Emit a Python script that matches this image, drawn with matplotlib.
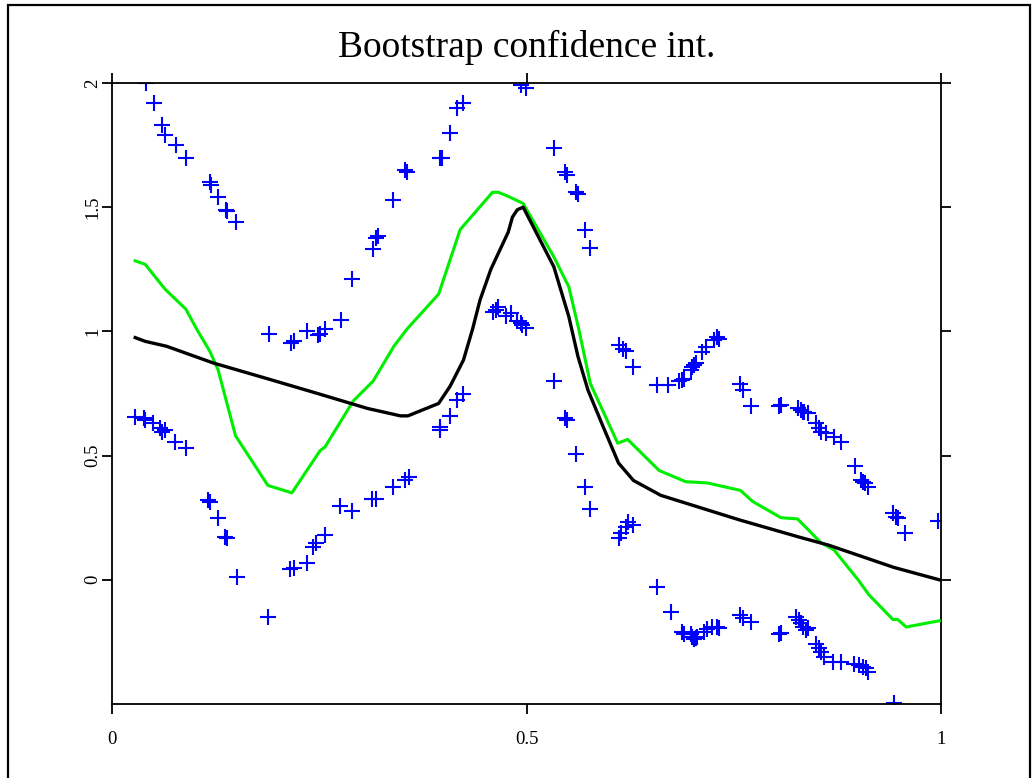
"""
plot.py

Bootstrap confidence interval chart: a black point estimate, a green
alternative fit and blue "+" markers for the bootstrap band points.
Saves out.png (1034x778).
"""

import matplotlib
matplotlib.use("Agg")
import matplotlib.pyplot as plt
from matplotlib.patches import Rectangle

plt.rcParams["font.family"] = ["Liberation Serif", "DejaVu Serif"]

# ---- data ---------------------------------------------------------------
black_x = [0.028, 0.04, 0.066, 0.122, 0.187, 0.248, 0.308, 0.348, 0.357,
           0.394, 0.408, 0.424, 0.435, 0.444, 0.457, 0.478, 0.483, 0.489,
           0.496, 0.533, 0.551, 0.562, 0.574, 0.592, 0.611, 0.629, 0.662,
           0.686, 0.71, 0.758, 0.831, 0.864, 0.943, 0.998]
black_y = [0.975, 0.96, 0.94, 0.873, 0.81, 0.75, 0.69, 0.66, 0.66,
           0.71, 0.78, 0.885, 1.01, 1.127, 1.25, 1.40, 1.46, 1.49,
           1.50, 1.26, 1.06, 0.90, 0.765, 0.62, 0.47, 0.40, 0.34,
           0.315, 0.29, 0.24, 0.17, 0.14, 0.05, 0.0]

green_x = [0.028, 0.04, 0.064, 0.089, 0.102, 0.118, 0.128, 0.149, 0.188,
           0.217, 0.251, 0.257, 0.291, 0.315, 0.34, 0.356, 0.394, 0.42,
           0.459, 0.466, 0.477, 0.496, 0.533, 0.551, 0.563, 0.577, 0.61,
           0.622, 0.66, 0.692, 0.718, 0.758, 0.773, 0.807, 0.827, 0.855,
           0.871, 0.9, 0.913, 0.942, 0.948, 0.958, 0.998]
green_y = [1.284, 1.27, 1.17, 1.09, 1.01, 0.92, 0.845, 0.58, 0.38,
           0.35, 0.52, 0.535, 0.72, 0.80, 0.94, 1.01, 1.15, 1.41,
           1.56, 1.56, 1.545, 1.515, 1.30, 1.18, 1.01, 0.79, 0.55,
           0.565, 0.44, 0.395, 0.39, 0.36, 0.315, 0.25, 0.245, 0.15,
           0.12, 0.0, -0.06, -0.16, -0.16, -0.19, -0.165]

# upper bands
upper_x = [0.041, 0.051, 0.060, 0.064, 0.077, 0.089, 0.118, 0.120, 0.128,
           0.137, 0.139, 0.150,
           0.189, 0.216, 0.219, 0.235, 0.248, 0.251, 0.257, 0.276, 0.29,
           0.315, 0.318, 0.321, 0.339, 0.354, 0.356, 0.396, 0.398, 0.408,
           0.416, 0.424, 0.493, 0.499,
           0.533, 0.547, 0.549, 0.560, 0.562, 0.571, 0.577,
           0.611, 0.616, 0.62, 0.629, 0.658, 0.671, 0.684, 0.688, 0.69,
           0.698, 0.70, 0.702, 0.704, 0.712, 0.716, 0.726, 0.73, 0.732,
           0.758, 0.761, 0.771, 0.805, 0.807, 0.827, 0.831, 0.833, 0.835,
           0.839, 0.849, 0.853, 0.855, 0.861, 0.871, 0.879, 0.896, 0.903,
           0.906, 0.908, 0.912, 0.942, 0.946, 0.948, 0.957, 0.996]
upper_y = [2.0, 1.92, 1.83, 1.79, 1.75, 1.70, 1.60, 1.59, 1.54,
           1.49, 1.485, 1.44,
           0.99, 0.955, 0.96, 1.0, 0.985, 0.99, 1.01, 1.045, 1.21,
           1.33, 1.375, 1.385, 1.53, 1.65, 1.64, 1.70, 1.70, 1.80,
           1.90, 1.92, 1.99, 1.98,
           1.74, 1.64, 1.63, 1.56, 1.555, 1.41, 1.335,
           0.945, 0.93, 0.92, 0.855, 0.785, 0.785, 0.80, 0.805, 0.81,
           0.845, 0.857, 0.865, 0.873, 0.918, 0.937, 0.966, 0.978, 0.97,
           0.79, 0.765, 0.70, 0.70, 0.705, 0.69, 0.684, 0.676, 0.676,
           0.672, 0.632, 0.61, 0.596, 0.59, 0.576, 0.555, 0.459, 0.40,
           0.394, 0.39, 0.374, 0.27, 0.254, 0.25, 0.189, 0.237]

# lower bands
lower_x = [0.028, 0.038, 0.04, 0.05, 0.058, 0.06, 0.064, 0.076, 0.089,
           0.116, 0.118, 0.128, 0.136, 0.139, 0.151,
           0.188, 0.215, 0.219, 0.235, 0.243, 0.246, 0.257, 0.275, 0.29,
           0.314, 0.318, 0.339, 0.354, 0.358, 0.396, 0.396, 0.408, 0.416,
           0.424,
           0.459, 0.463, 0.466, 0.475, 0.481, 0.489, 0.493, 0.495, 0.499,
           0.533, 0.547, 0.549, 0.56, 0.571, 0.577, 0.611, 0.614, 0.62,
           0.622, 0.629,
           0.658, 0.674, 0.688, 0.69, 0.698, 0.70, 0.702, 0.704, 0.706,
           0.714, 0.718, 0.724, 0.73, 0.732, 0.757, 0.761, 0.771, 0.805,
           0.807, 0.825, 0.829, 0.831, 0.833, 0.837, 0.839, 0.849, 0.853,
           0.855, 0.859, 0.87, 0.879, 0.895, 0.901, 0.906, 0.909, 0.912,
           0.943]
lower_y = [0.656, 0.652, 0.644, 0.632, 0.61, 0.596, 0.604, 0.555, 0.53,
           0.322, 0.314, 0.25, 0.173, 0.169, 0.01,
           -0.15, 0.044, 0.048, 0.068, 0.133, 0.149, 0.18, 0.298, 0.278,
           0.326, 0.326, 0.374, 0.402, 0.414, 0.604, 0.616, 0.66, 0.724,
           0.749,
           1.079, 1.087, 1.10, 1.06, 1.074, 1.04, 1.034, 1.026, 1.014,
           0.80, 0.652, 0.644, 0.507, 0.374, 0.286, 0.169, 0.19, 0.213,
           0.233, 0.22,
           -0.03, -0.13, -0.21, -0.22, -0.22, -0.23, -0.24, -0.235, -0.23,
           -0.21, -0.20, -0.19, -0.19, -0.193, -0.14, -0.153, -0.169, -0.22,
           -0.213, -0.149, -0.161, -0.173, -0.189, -0.201, -0.193, -0.26, -0.274,
           -0.29, -0.31, -0.33, -0.33, -0.338, -0.342, -0.35, -0.354, -0.37,
           -0.495]

x_ticks = [0, 0.5, 1]
x_ticklabels = ["0", "0.5", "1"]
y_ticks = [0, 0.5, 1, 1.5, 2]
y_ticklabels = ["0", "0.5", "1", "1.5", "2"]


def main():
    W, H = 1034, 778
    fig = plt.figure(figsize=(W / 100, H / 100), dpi=100)
    # axes box in pixels: x 112..941, y 83..704
    ax = fig.add_axes([112 / W, 1 - 704 / H, (941 - 112) / W, (704 - 83) / H])

    # figure frame (bottom edge runs off the canvas)
    fig.patches.append(Rectangle((8 / W, -0.01), (1030 - 8) / W, 1 - 5 / H + 0.01,
                                 transform=fig.transFigure, fill=False,
                                 edgecolor="black", linewidth=1.6))

    ax.plot(lower_x + upper_x, lower_y + upper_y, linestyle="none", marker="+",
            markersize=11, markeredgewidth=1.5, color="#0000ff", zorder=2)
    ax.plot(green_x, green_y, color="#00ee00", lw=2.2, zorder=3)
    ax.plot(black_x, black_y, color="black", lw=2.4, zorder=4)

    ax.set_xlim(0, 1)
    ax.set_ylim(-0.5, 2)
    ax.set_xticks(x_ticks)
    ax.set_xticklabels(x_ticklabels)
    ax.set_yticks(y_ticks)
    ax.set_yticklabels(y_ticklabels, rotation=90, va="center")
    ax.tick_params(axis="both", direction="out", length=7.5, width=1.3,
                   labelsize=13.5, top=True, right=True,
                   labeltop=False, labelright=False)
    ax.tick_params(axis="x", pad=12)
    ax.tick_params(axis="y", pad=0)
    for s in ax.spines.values():
        s.set_linewidth(1.3)

    fig.text(526.5 / W, 1 - 57 / H, "Bootstrap confidence int.",
             ha="center", va="baseline", fontsize=27)

    fig.savefig("out.png", dpi=100)
    plt.close(fig)


if __name__ == "__main__":
    main()
